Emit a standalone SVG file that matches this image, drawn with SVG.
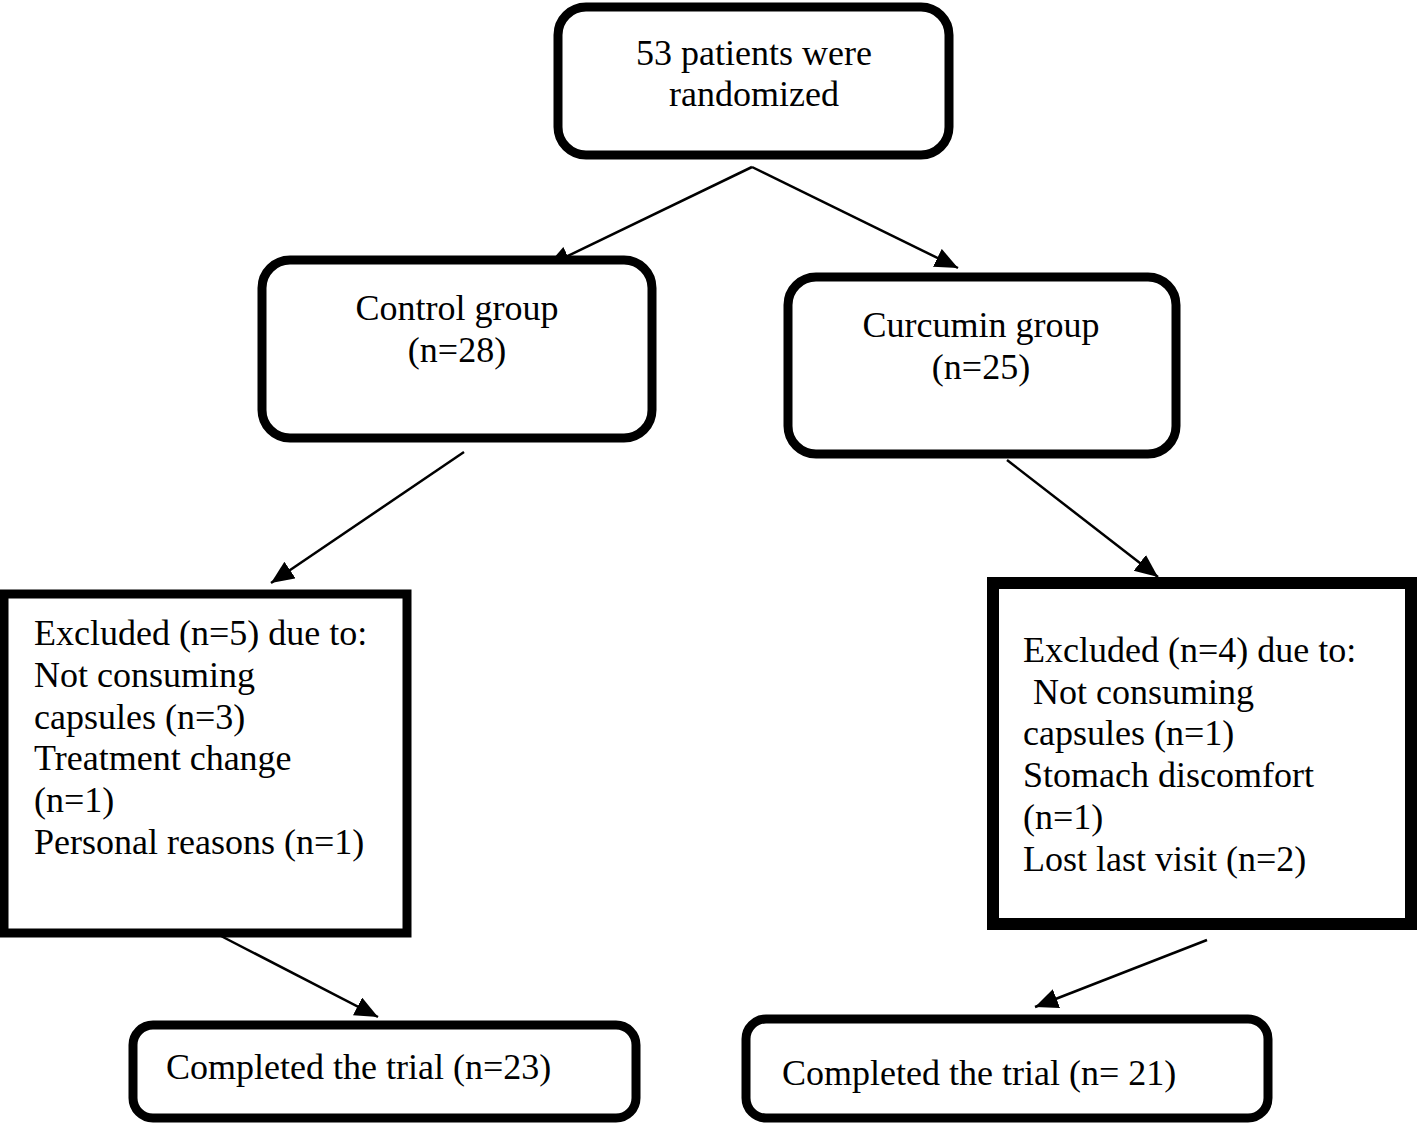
<svg xmlns="http://www.w3.org/2000/svg" width="1419" height="1128" viewBox="0 0 1419 1128">
<style>
.box{fill:#fff;stroke:#000;stroke-width:9}
.t{font-family:"Liberation Serif","Times New Roman",serif;font-size:36px;fill:#000}
.c{text-anchor:middle}
.ln{stroke:#000;stroke-width:2.5;fill:none;marker-end:url(#ah)}
</style>
<defs>
<marker id="ah" markerUnits="userSpaceOnUse" markerWidth="25" markerHeight="22" refX="23" refY="10" orient="auto">
<path d="M0,0 L23,10 L0,20 z" fill="#000"/>
</marker>
</defs>
<rect width="1419" height="1128" fill="#fff"/>
<g id="connectors">
<line class="ln" x1="752" y1="167" x2="547" y2="266"/>
<line class="ln" x1="752" y1="167" x2="958" y2="268"/>
<line class="ln" x1="464" y1="452" x2="271" y2="583"/>
<line class="ln" x1="1007" y1="460" x2="1158" y2="577"/>
<line class="ln" x1="221" y1="936" x2="378" y2="1017"/>
<line class="ln" x1="1207" y1="940" x2="1035" y2="1007"/>
</g>
<g id="randomized">
<rect class="box" x="558" y="7" width="391" height="148" rx="28"/>
<text class="t c" x="754" y="65">53 patients were</text>
<text class="t c" x="754" y="106">randomized</text>
</g>
<g id="control">
<rect class="box" x="262" y="260" width="390" height="178" rx="28"/>
<text class="t c" x="457" y="320">Control group</text>
<text class="t c" x="457" y="362">(n=28)</text>
</g>
<g id="curcumin">
<rect class="box" x="788" y="277" width="388" height="177" rx="28"/>
<text class="t c" x="981" y="337">Curcumin group</text>
<text class="t c" x="981" y="379">(n=25)</text>
</g>
<g id="excluded-control">
<rect class="box" x="4" y="594" width="403" height="339"/>
<text class="t" x="34" y="645">Excluded (n=5) due to:</text>
<text class="t" x="34" y="687">Not consuming</text>
<text class="t" x="34" y="729">capsules (n=3)</text>
<text class="t" x="34" y="770">Treatment change</text>
<text class="t" x="34" y="812">(n=1)</text>
<text class="t" x="34" y="854">Personal reasons (n=1)</text>
</g>
<g id="excluded-curcumin">
<rect class="box" x="993" y="583" width="418" height="341" style="stroke-width:12"/>
<text class="t" x="1023" y="662">Excluded (n=4) due to:</text>
<text class="t" x="1033" y="704">Not consuming</text>
<text class="t" x="1023" y="745">capsules (n=1)</text>
<text class="t" x="1023" y="787">Stomach discomfort</text>
<text class="t" x="1023" y="829">(n=1)</text>
<text class="t" x="1023" y="871">Lost last visit (n=2)</text>
</g>
<g id="completed-control">
<rect class="box" x="133" y="1025" width="503" height="93" rx="20"/>
<text class="t" x="166" y="1079">Completed the trial (n=23)</text>
</g>
<g id="completed-curcumin">
<rect class="box" x="746" y="1019" width="522" height="99" rx="20"/>
<text class="t" x="782" y="1085">Completed the trial (n= 21)</text>
</g>
</svg>
